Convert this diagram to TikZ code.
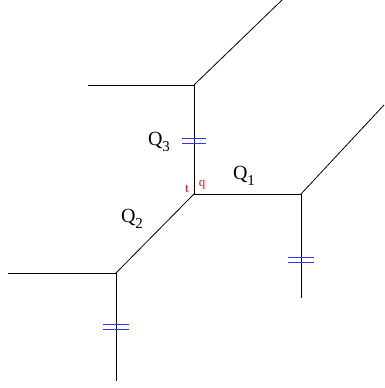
\documentclass[tikz,border=0pt]{standalone}
\usepackage{fontspec}
\setmainfont{Liberation Serif}
\usepackage{tikz}
\usetikzlibrary{calc}
\definecolor{TropRed}{RGB}{235, 20, 20}
\definecolor{TropBlue}{RGB}{50, 50, 240}
\newcommand{\qsub}[1]{\raisebox{-0.3em}{\fontsize{15}{15}\selectfont #1}}

\begin{document}
\begin{tikzpicture}[x=1pt, y=-1pt]
  \tikzstyle{edge} = [draw=black, line width=0.8pt]
  \tikzstyle{cut} = [draw=TropBlue, line width=0.8pt]
  \tikzstyle{qlabel} = [font=\fontsize{20}{22}\selectfont, inner sep=0pt]
  \tikzstyle{corner} = [font=\fontsize{13}{14}\selectfont, text=TropRed, inner sep=0pt]

  \useasboundingbox (0,0) rectangle (384,388);

  % vertices
  \coordinate (c) at (194,194);
  \coordinate (top) at (194,85);
  \coordinate (right) at (301,194);
  \coordinate (left) at (116,273);
  % free ends
  \coordinate (topL) at (88,85);
  \coordinate (topR) at (282,0);
  \coordinate (rightR) at (384,105);
  \coordinate (rightD) at (301,298);
  \coordinate (leftL) at (8,273);
  \coordinate (leftD) at (116,381);

  \path [edge] (c) -- (top);
  \path [edge] (c) -- (right);
  \path [edge] (c) -- (left);
  \path [edge] (top) -- (topL);
  \path [edge] (top) -- (topR);
  \path [edge] (right) -- (rightR);
  \path [edge] (right) -- (rightD);
  \path [edge] (left) -- (leftL);
  \path [edge] (left) -- (leftD);

  % double bars
  \path [cut] ($(c)!0.49!(top)+(-12,-2.5)$) -- ++(24,0);
  \path [cut] ($(c)!0.49!(top)+(-12,2.5)$) -- ++(24,0);
  \path [cut] ($(right)!0.63!(rightD)+(-13,-2.5)$) -- ++(26,0);
  \path [cut] ($(right)!0.63!(rightD)+(-13,2.5)$) -- ++(26,0);
  \path [cut] ($(left)!0.5!(leftD)+(-13,-2.5)$) -- ++(26,0);
  \path [cut] ($(left)!0.5!(leftD)+(-13,2.5)$) -- ++(26,0);

  \node [qlabel] (q3) at (159,142) {Q\qsub{3}};
  \node [qlabel] (q1) at (244,176) {Q\qsub{1}};
  \node [qlabel] (q2) at (132,219) {Q\qsub{2}};
  \node [corner] (t) at (187,189) {t};
  \node [corner] (q) at (202,185) {q};
\end{tikzpicture}
\end{document}
